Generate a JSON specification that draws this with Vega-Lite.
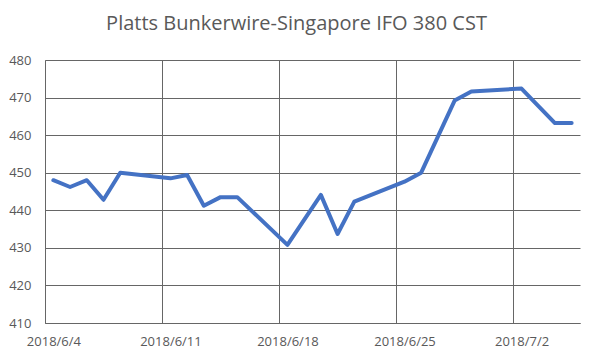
{
  "$schema": "https://vega.github.io/schema/vega-lite/v6.json",
  "autosize": "none",
  "width": 535,
  "height": 263,
  "padding": {"left": 45, "top": 60, "right": 13, "bottom": 31},
  "background": "white",
  "title": {
    "text": "Platts Bunkerwire-Singapore IFO 380 CST",
    "font": "Open Sans",
    "fontSize": 20,
    "fontWeight": "normal",
    "color": "#595959",
    "anchor": "middle",
    "dx": -16,
    "offset": 20
  },
  "config": {
    "view": {"stroke": null},
    "axis": {
      "labelFont": "Open Sans",
      "labelFontSize": 13,
      "labelColor": "#595959",
      "gridColor": "#666666",
      "gridWidth": 1,
      "gridOpacity": 1,
      "domainColor": "#666666",
      "domainWidth": 1,
      "ticks": false,
      "title": null
    }
  },
  "data": {
    "values": [
      {"date": "2018-06-04", "price": 448.0},
      {"date": "2018-06-05", "price": 446.2},
      {"date": "2018-06-06", "price": 448.0},
      {"date": "2018-06-07", "price": 442.8},
      {"date": "2018-06-08", "price": 450.0},
      {"date": "2018-06-11", "price": 448.5},
      {"date": "2018-06-12", "price": 449.4},
      {"date": "2018-06-13", "price": 441.2},
      {"date": "2018-06-14", "price": 443.5},
      {"date": "2018-06-15", "price": 443.5},
      {"date": "2018-06-18", "price": 430.8},
      {"date": "2018-06-20", "price": 444.1},
      {"date": "2018-06-21", "price": 433.7},
      {"date": "2018-06-22", "price": 442.3},
      {"date": "2018-06-25", "price": 447.6},
      {"date": "2018-06-26", "price": 450.0},
      {"date": "2018-06-28", "price": 469.2},
      {"date": "2018-06-29", "price": 471.6},
      {"date": "2018-07-02", "price": 472.4},
      {"date": "2018-07-04", "price": 463.2},
      {"date": "2018-07-05", "price": 463.2}
    ]
  },
  "mark": {
    "type": "line",
    "color": "#4472C4",
    "strokeWidth": 4,
    "strokeJoin": "round",
    "strokeCap": "round",
    "xOffset": 8.36
  },
  "encoding": {
    "x": {
      "field": "date",
      "type": "temporal",
      "scale": {
        "type": "utc",
        "domain": [
          {"year": 2018, "month": 6, "date": 4, "utc": true},
          {"year": 2018, "month": 7, "date": 6, "utc": true}
        ]
      },
      "axis": {
        "values": [
          {"year": 2018, "month": 6, "date": 4, "utc": true},
          {"year": 2018, "month": 6, "date": 11, "utc": true},
          {"year": 2018, "month": 6, "date": 18, "utc": true},
          {"year": 2018, "month": 6, "date": 25, "utc": true},
          {"year": 2018, "month": 7, "date": 2, "utc": true}
        ],
        "labelExpr": "utcFormat(datum.value, '%Y/%-m/%-d')",
        "labelOffset": 8.4,
        "labelPadding": 12,
        "labelFlush": false,
        "grid": true
      }
    },
    "y": {
      "field": "price",
      "type": "quantitative",
      "scale": {"domain": [410, 480], "nice": false, "zero": false},
      "axis": {
        "values": [410, 420, 430, 440, 450, 460, 470, 480],
        "labelPadding": 14,
        "grid": true
      }
    }
  }
}
